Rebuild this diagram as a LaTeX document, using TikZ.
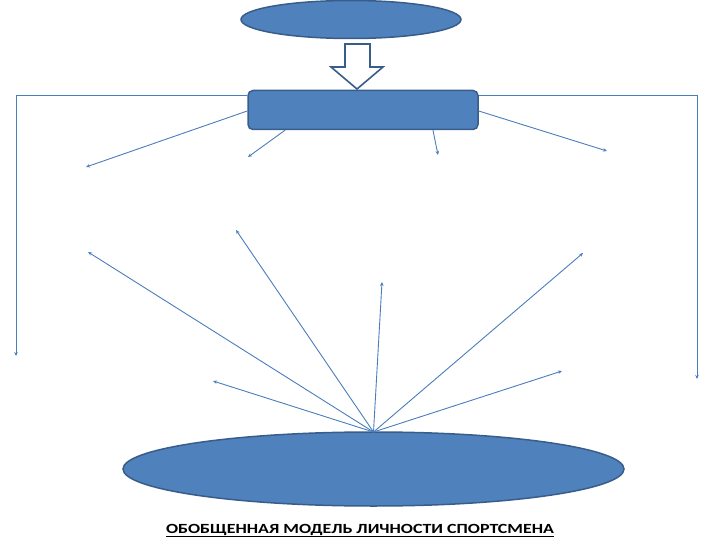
\documentclass[tikz,border=0pt]{standalone}
\usepackage{fontspec}
\setmainfont{Carlito}
\usetikzlibrary{shapes.geometric,arrows.meta}
\definecolor{fillblue}{HTML}{4F81BD}
\definecolor{edgeblue}{HTML}{385D8A}
\definecolor{lineblue}{HTML}{4A7EBB}
\begin{document}
\begin{tikzpicture}[x=1pt,y=-1pt,
  oval/.style={ellipse,draw=edgeblue,fill=fillblue,line width=1.5pt,inner sep=0pt},
  bar/.style={rectangle,rounded corners=5pt,draw=edgeblue,fill=fillblue,line width=1.5pt,inner sep=0pt},
  conn/.style={draw=lineblue,line width=0.9pt,-{Stealth[length=4pt,width=3.5pt]}}
]
\useasboundingbox (0,0) rectangle (720,540);
\node[oval,minimum width=220pt,minimum height=38pt] (top) at (351,19.5) {};
\node[bar,minimum width=230pt,minimum height=39pt] (rect) at (363,110) {};
\node[oval,minimum width=501pt,minimum height=74pt] (bot) at (373.5,469) {};
% hollow block arrow
\draw[edgeblue,line width=1.6pt,fill=white,line join=miter]
  (345,44) -- (370,44) -- (370,67) -- (383,67) -- (357,89) -- (331,67) -- (345,67) -- cycle;
% free ends
\coordinate (eL) at (16,356);
\coordinate (eR) at (697,379);
\coordinate (a1) at (86,167);
\coordinate (a2) at (248,157);
\coordinate (a3) at (438,155);
\coordinate (a4) at (607,151);
\coordinate (b1) at (88,252);
\coordinate (b2) at (236,230);
\coordinate (b3) at (382,282);
\coordinate (b4) at (583,253);
\coordinate (b5) at (213,381);
\coordinate (b6) at (562,371);
\coordinate (bt) at (373.5,432);
% connectors from rectangle
\draw[conn] ([yshift=15pt]rect.west) -- (16,95) -- (eL);
\draw[conn] ([yshift=15pt]rect.east) -- (697,95) -- (eR);
\draw[conn] ([yshift=-1pt]rect.west) -- (a1);
\draw[conn] ([xshift=-78pt]rect.south) -- (a2);
\draw[conn] ([xshift=70pt]rect.south) -- (a3);
\draw[conn] ([yshift=-1pt]rect.east) -- (a4);
% connectors from bottom ellipse
\foreach \t in {b1,b2,b3,b4,b5,b6}{\draw[conn] (bt) -- (\t);}
\node[font=\bfseries\fontsize{14}{16}\selectfont,inner sep=0pt,anchor=base] (title) at (360,533)
  {\scalebox{1.28}[1]{\underline{ОБОБЩЕННАЯ МОДЕЛЬ ЛИЧНОСТИ СПОРТСМЕНА}}};
\end{tikzpicture}
\end{document}
